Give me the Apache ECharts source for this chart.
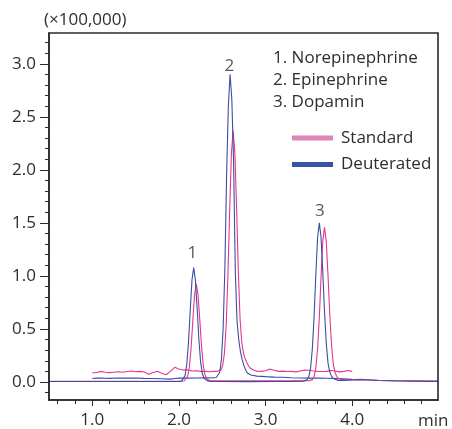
<!DOCTYPE html>
<html><head><meta charset="utf-8">
<script src="https://cdn.jsdelivr.net/npm/echarts@6.0.0/dist/echarts.min.js"></script>
<style>html,body{margin:0;padding:0;background:#fff}#c{width:452px;height:429px}</style>
</head><body><div id="c"></div>
<script>
// Deuterated trace with peaks 1 and 3
const deuA_t = [0.5,0.8,1.1,1.4,1.7,1.9,2.0,2.03,2.05,2.07,2.09,2.11,2.13,2.15,2.17,2.19,2.21,2.23,2.25,2.27,2.29,2.31,2.33,2.37,2.5,2.8,3.1,3.3,3.44,3.46,3.48,3.50,3.52,3.54,3.56,3.58,3.60,3.62,3.64,3.66,3.68,3.70,3.72,3.74,3.76,3.78,3.80,3.84,3.9,4.0,4.1,4.2,4.3,4.5,4.7,4.99];
const deuA_v = [0.004,0.004,0.004,0.004,0.004,0.004,0.005,0.008,0.02,0.06,0.165,0.373,0.671,0.958,1.078,0.96,0.692,0.402,0.187,0.08,0.035,0.018,0.01,0.006,0.004,0.003,0.004,0.005,0.008,0.013,0.022,0.053,0.136,0.317,0.622,1.014,1.36,1.50,1.366,1.038,0.666,0.368,0.181,0.096,0.055,0.032,0.02,0.015,0.015,0.018,0.02,0.018,0.014,0.01,0.008,0.006];
// Standard trace with peaks 1 and 3
const stdA_t = [0.5,0.8,1.1,1.4,1.7,2.0,2.06,2.08,2.10,2.12,2.14,2.16,2.18,2.20,2.22,2.24,2.26,2.28,2.30,2.32,2.34,2.36,2.4,2.6,2.9,3.2,3.5,3.52,3.54,3.56,3.58,3.60,3.62,3.64,3.66,3.68,3.70,3.72,3.74,3.76,3.78,3.80,3.82,3.84,3.86,3.9,4.0,4.1,4.2,4.3,4.5,4.7,4.99];
const stdA_v = [0.007,0.007,0.007,0.007,0.007,0.007,0.009,0.018,0.052,0.142,0.321,0.576,0.822,0.925,0.824,0.594,0.345,0.161,0.069,0.031,0.016,0.01,0.011,0.012,0.012,0.012,0.012,0.014,0.022,0.051,0.133,0.309,0.606,0.987,1.324,1.458,1.33,1.01,0.648,0.358,0.177,0.094,0.054,0.032,0.02,0.02,0.022,0.024,0.02,0.016,0.012,0.01,0.008];
// Deuterated trace with peak 2
const deuB_t = [1.0,1.05,1.1,1.15,1.2,1.3,1.4,1.5,1.6,1.7,1.8,1.9,1.95,2.0,2.1,2.2,2.3,2.4,2.43,2.45,2.47,2.49,2.51,2.53,2.55,2.57,2.59,2.61,2.63,2.65,2.67,2.69,2.71,2.73,2.75,2.77,2.79,2.83,2.9,3.0,3.1,3.2,3.3,3.4,3.5,3.6,3.7,3.8,3.9,4.0];
const deuB_v = [0.032,0.036,0.038,0.035,0.034,0.037,0.036,0.038,0.034,0.033,0.03,0.027,0.032,0.036,0.036,0.038,0.039,0.04,0.042,0.051,0.089,0.209,0.506,1.07,1.95,2.6,2.90,2.67,2.10,1.05,0.58,0.40,0.283,0.21,0.154,0.112,0.085,0.065,0.055,0.05,0.046,0.044,0.04,0.038,0.036,0.036,0.035,0.033,0.03,0.026];
// Standard trace with peak 2
const stdB_t = [1.0,1.05,1.1,1.15,1.2,1.25,1.3,1.35,1.4,1.45,1.5,1.55,1.6,1.65,1.7,1.75,1.8,1.85,1.9,1.95,2.0,2.05,2.1,2.15,2.2,2.25,2.3,2.35,2.4,2.445,2.465,2.485,2.505,2.525,2.545,2.565,2.585,2.605,2.625,2.645,2.665,2.685,2.705,2.725,2.745,2.765,2.785,2.805,2.825,2.865,2.9,2.95,3.0,3.05,3.1,3.15,3.2,3.25,3.3,3.35,3.4,3.45,3.5,3.55,3.6,3.65,3.7,3.75,3.8,3.85,3.9,3.95,4.0];
const stdB_v = [0.085,0.09,0.1,0.092,0.088,0.092,0.096,0.092,0.098,0.104,0.097,0.1,0.094,0.072,0.09,0.1,0.082,0.068,0.1,0.138,0.122,0.112,0.115,0.104,0.106,0.1,0.101,0.096,0.1,0.1,0.102,0.114,0.155,0.272,0.534,0.997,1.60,2.148,2.37,2.166,1.644,1.053,0.599,0.372,0.270,0.218,0.179,0.15,0.13,0.11,0.102,0.1,0.106,0.122,0.11,0.1,0.102,0.098,0.1,0.095,0.104,0.112,0.11,0.104,0.1,0.098,0.1,0.108,0.104,0.095,0.1,0.108,0.1];

const peakNames = ['1','2','3'];
const peakLabelT = [2.154,2.581,3.627];
const peakLabelV = [1.216,2.975,1.608];
const compounds = ['1. Norepinephrine','2. Epinephrine','3. Dopamin'];
const seriesNames = ['Standard','Deuterated'];

const xMajorTicks = [1.0,2.0,3.0,4.0];
const xMinorTicks = [0.6,0.8,1.2,1.4,1.6,1.8,2.2,2.4,2.6,2.8,3.2,3.4,3.6,3.8,4.2,4.4,4.6,4.8];
const yMajorTicks = [0.0,0.5,1.0,1.5,2.0,2.5,3.0];
const yMinorTicks = [-0.1,0.0,0.1,0.2,0.3,0.4,0.5,0.6,0.7,0.8,0.9,1.0,1.1,1.2,1.3,1.4,1.5,1.6,1.7,1.8,1.9,2.0,2.1,2.2,2.3,2.4,2.5,2.6,2.7,2.8,2.9,3.0,3.1,3.2];

const zip = (t, v) => t.slice(0, Math.min(t.length, v.length)).map((x, i) => [x, v[i]]);

const PINK = '#e6358d', BLUE = '#3c4ea2';
const FONT = 'Open Sans';
const TXT = '#2e2e2e';
const FRAME = '#2a2a2a';
const X_MIN = 0.5, X_MAX = 4.99, Y_MIN = -0.17, Y_MAX = 3.29;

const chart = echarts.init(document.getElementById('c'), null, {renderer: 'canvas'});
const lineSeries = (name, color, data) => ({
  type: 'line', name, data, xAxisIndex: 0, yAxisIndex: 0,
  showSymbol: false, symbol: 'none', smooth: false,
  lineStyle: {color, width: 1.1}, itemStyle: {color}, silent: true
});
const xCommon = {type: 'value', min: X_MIN, max: X_MAX, splitLine: {show: false}};
const yCommon = {type: 'value', min: Y_MIN, max: Y_MAX, splitLine: {show: false}};
const frameLine = {show: true, onZero: false, lineStyle: {color: FRAME, width: 1.5}};
const noLine = {show: false, onZero: false};

chart.setOption({
  animation: false,
  grid: {left: 49, right: 14, top: 33, bottom: 29, show: false},
  xAxis: [
    Object.assign({}, xCommon, {
      position: 'bottom', axisLine: frameLine,
      axisTick: {show: true, customValues: xMajorTicks, length: 6, lineStyle: {color: FRAME}},
      axisLabel: {customValues: xMajorTicks, formatter: v => v.toFixed(1), margin: 12, fontFamily: FONT, fontSize: 17, color: TXT}
    }),
    Object.assign({}, xCommon, {
      position: 'bottom', axisLine: noLine,
      axisTick: {show: true, customValues: xMinorTicks, length: 4, lineStyle: {color: FRAME}},
      axisLabel: {show: false}
    })
  ],
  yAxis: [
    Object.assign({}, yCommon, {
      position: 'left', axisLine: frameLine,
      axisTick: {show: true, customValues: yMajorTicks, length: 9, lineStyle: {color: FRAME}},
      axisLabel: {customValues: yMajorTicks, formatter: v => v.toFixed(1), margin: 13, fontFamily: FONT, fontSize: 17, color: TXT}
    }),
    Object.assign({}, yCommon, {
      position: 'left', axisLine: noLine,
      axisTick: {show: true, customValues: yMinorTicks, length: 4, lineStyle: {color: FRAME}},
      axisLabel: {show: false}
    })
  ],
  legend: {
    orient: 'vertical', left: 292, top: 128, padding: 0, icon: 'rect', itemWidth: 41, itemHeight: 5, itemGap: 6.6,
    selectedMode: false,
    textStyle: {fontFamily: FONT, fontSize: 17, color: TXT, lineHeight: 20, padding: [0, 0, 0, 3]},
    data: [
      {name: seriesNames[0], itemStyle: {color: '#df86b9'}},
      {name: seriesNames[1], itemStyle: {color: '#3953a4'}}
    ]
  },
  series: [
    lineSeries(seriesNames[0], PINK, zip(stdB_t, stdB_v)),
    lineSeries(seriesNames[1], BLUE, zip(deuB_t, deuB_v)),
    lineSeries(seriesNames[0], PINK, zip(stdA_t, stdA_v)),
    lineSeries(seriesNames[1], BLUE, zip(deuA_t, deuA_v)),
    {
      type: 'scatter', name: 'peaks', symbolSize: 0, silent: true,
      data: peakNames.map((n, i) => ({name: n, value: [peakLabelT[i], peakLabelV[i]]})),
      label: {show: true, position: 'inside', formatter: p => p.name, fontFamily: FONT, fontSize: 17, color: TXT}
    }
  ]
});

// Plot frame drawn around the grid area, located through the axes' own scales
const p0 = chart.convertToPixel({xAxisIndex: 0, yAxisIndex: 0}, [X_MIN, Y_MAX]);
const p1 = chart.convertToPixel({xAxisIndex: 0, yAxisIndex: 0}, [X_MAX, Y_MIN]);
chart.setOption({
  graphic: [
    {type: 'text', x: 44, y: 20, style: {text: '(×100,000)', font: '17px "Open Sans"', fill: TXT, align: 'left', verticalAlign: 'middle'}},
    {type: 'text', x: 273, y: 47, style: {text: compounds.join('\n'), font: '17px "Open Sans"', lineHeight: 22, fill: TXT, align: 'left', verticalAlign: 'top'}},
    {type: 'text', x: 418, y: 421, style: {text: 'min', font: '17px "Open Sans"', fill: TXT, align: 'left', verticalAlign: 'middle'}},
    {type: 'rect', z: 100, silent: true,
     shape: {x: Math.round(p0[0]), y: Math.round(p0[1]), width: Math.round(p1[0] - p0[0]), height: Math.round(p1[1] - p0[1])},
     style: {fill: 'none', stroke: FRAME, lineWidth: 1.6}}
  ]
});
</script>
</body></html>
